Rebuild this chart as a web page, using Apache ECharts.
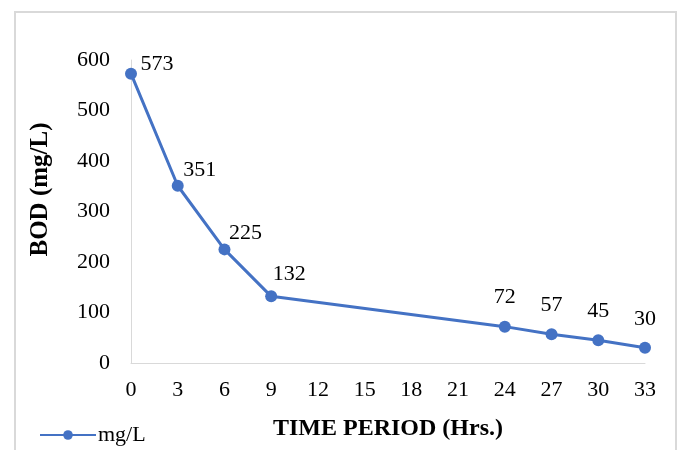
<!DOCTYPE html>
<html>
<head>
<meta charset="utf-8">
<script src="https://cdn.jsdelivr.net/npm/echarts@6/dist/echarts.min.js"></script>
<style>
  html, body { margin: 0; padding: 0; background: #fff; }
  #chart { width: 680px; height: 450px; }
</style>
</head>
<body>
<div id="chart"></div>
<script>
var hours = [0, 3, 6, 9, 24, 27, 30, 33];
var bod = [573, 351, 225, 132, 72, 57, 45, 30];
var seriesName = 'mg/L';

// label offsets relative to 'top' position, like the excel chart
var labelOffsets = [[26, 13], [22, 6], [21, 6], [18, 0], [0, -7], [0, -7], [0, -7], [0, -7]];

var serif = '"Liberation Serif", "Times New Roman", serif';

var chart = echarts.init(document.getElementById('chart'));
var pts = hours.map(function (h, i) {
    return {
        value: [h, bod[i]],
        label: { offset: labelOffsets[i] }
    };
});

var option = {
    animation: false,
    textStyle: { fontFamily: serif },
    graphic: [{
        type: 'rect',
        shape: { x: 15, y: 12, width: 661, height: 470 },
        style: { fill: 'none', stroke: '#d9d9d9', lineWidth: 2 }
    }],
    grid: { left: 131, right: 35, top: 60, bottom: 87 },
    legend: {
        left: 34,
        top: 419,
        itemWidth: 56,
        itemHeight: 12,
        itemGap: 2,
        textStyle: { fontFamily: serif, fontSize: 22, color: '#000', padding: [0, 0, 0, -3] },
        data: [seriesName]
    },
    xAxis: {
        type: 'value',
        min: 0,
        max: 33,
        interval: 3,
        name: 'TIME PERIOD (Hrs.)',
        nameLocation: 'middle',
        nameGap: 54,
        nameTextStyle: { fontFamily: serif, fontSize: 24, fontWeight: 'bold', color: '#000' },
        axisLine: { show: true, lineStyle: { color: '#d9d9d9', width: 1 } },
        axisTick: { show: false },
        splitLine: { show: false },
        axisLabel: { margin: 16, fontFamily: serif, fontSize: 22, color: '#000' }
    },
    yAxis: {
        type: 'value',
        min: 0,
        max: 600,
        interval: 100,
        name: 'BOD (mg/L)',
        nameLocation: 'middle',
        nameGap: 78,
        nameTextStyle: { fontFamily: serif, fontSize: 25, fontWeight: 'bold', color: '#000', padding: [0, 0, 0, 44] },
        axisLine: { show: true, lineStyle: { color: '#d9d9d9', width: 1 } },
        axisTick: { show: false },
        splitLine: { show: false },
        axisLabel: { margin: 21, fontFamily: serif, fontSize: 22, color: '#000' }
    },
    series: [{
        name: seriesName,
        type: 'line',
        data: pts,
        symbol: 'circle',
        symbolSize: 12,
        lineStyle: { color: '#4472c4', width: 3 },
        itemStyle: { color: '#4472c4' },
        label: {
            show: true,
            position: 'top',
            fontFamily: serif,
            fontSize: 22,
            color: '#000',
            formatter: function (p) { return p.value[1]; }
        }
    }]
};
chart.setOption(option);
</script>
</body>
</html>
